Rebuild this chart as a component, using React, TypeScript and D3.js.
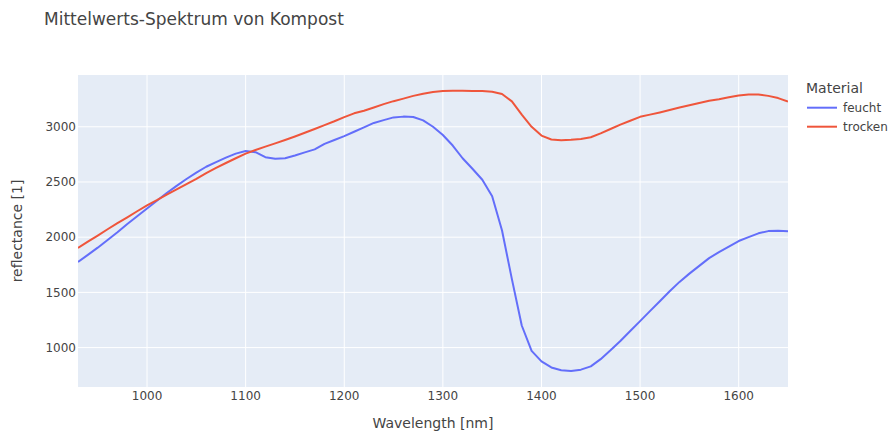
import React from "react";
import * as d3 from "d3";

// Wavelengths in nm (sampled every 10 nm from 930 to 1650)
const wavelengths = [
  930, 940, 950, 960, 970, 980, 990, 1000, 1010, 1020, 1030, 1040, 1050, 1060,
  1070, 1080, 1090, 1100, 1110, 1120, 1130, 1140, 1150, 1160, 1170, 1180, 1190,
  1200, 1210, 1220, 1230, 1240, 1250, 1260, 1270, 1280, 1290, 1300, 1310, 1320,
  1330, 1340, 1350, 1360, 1370, 1380, 1390, 1400, 1410, 1420, 1430, 1440, 1450,
  1460, 1470, 1480, 1490, 1500, 1510, 1520, 1530, 1540, 1550, 1560, 1570, 1580,
  1590, 1600, 1610, 1620, 1630, 1640, 1650,
];

const feucht = [
  1776, 1840, 1905, 1975, 2045, 2120, 2190, 2260, 2330, 2400, 2465, 2527, 2585,
  2638, 2680, 2720, 2757, 2780, 2770, 2725, 2710, 2715, 2740, 2768, 2795, 2845,
  2880, 2915, 2955, 2995, 3035, 3060, 3085, 3092, 3088, 3058, 3000, 2925, 2830,
  2715, 2620, 2520, 2370, 2060, 1620, 1200, 970, 875, 820, 795, 788, 800, 830,
  895, 975, 1060, 1150, 1240, 1330, 1420, 1510, 1595, 1670, 1740, 1810, 1865,
  1915, 1965, 2000, 2035, 2055, 2058, 2054,
];

const trocken = [
  1903, 1960, 2015, 2072, 2127, 2180, 2235, 2288, 2335, 2385, 2432, 2480, 2528,
  2580, 2628, 2672, 2715, 2757, 2790, 2820, 2850, 2880, 2912, 2946, 2980, 3015,
  3050, 3088, 3122, 3145, 3175, 3205, 3232, 3255, 3280, 3300, 3315, 3325, 3327,
  3326, 3325, 3324, 3318, 3297, 3230, 3110, 3000, 2920, 2885, 2878, 2882, 2890,
  2905, 2940, 2980, 3020, 3055, 3090, 3110, 3130, 3152, 3175, 3195, 3215, 3235,
  3250, 3268, 3284, 3292, 3293, 3280, 3260, 3228,
];

const seriesNames = ["feucht", "trocken"];
const seriesColors = ["#636efa", "#EF553B"];
const xTicks = [1000, 1100, 1200, 1300, 1400, 1500, 1600];
const yTicks = [1000, 1500, 2000, 2500, 3000];

const W = 888;
const H = 432;
const margin = { left: 78, right: 100, top: 75, bottom: 45 };
const font = '"DejaVu Sans", verdana, arial, sans-serif';

export default function App() {
  const x = d3
    .scaleLinear()
    .domain([930, 1650])
    .range([margin.left, W - margin.right]);
  const y = d3
    .scaleLinear()
    .domain([643, 3469])
    .range([H - margin.bottom, margin.top]);

  const line = d3
    .line<number>()
    .x((_, i) => x(wavelengths[i]))
    .y((d) => y(d));

  const allSeries = [feucht, trocken];
  const pw = W - margin.right - margin.left;
  const ph = H - margin.bottom - margin.top;

  return (
    <svg
      width={W}
      height={H}
      style={{ position: "absolute", left: 0, top: 0, background: "#fff" }}
      fontFamily={font}
    >
      <rect x={margin.left} y={margin.top} width={pw} height={ph} fill="#E5ECF6" />
      {xTicks.map((t) => (
        <line key={"gx" + t} x1={x(t)} x2={x(t)} y1={margin.top} y2={margin.top + ph} stroke="#fff" strokeWidth={1} />
      ))}
      {yTicks.map((t) => (
        <line key={"gy" + t} x1={margin.left} x2={margin.left + pw} y1={y(t)} y2={y(t)} stroke="#fff" strokeWidth={1} />
      ))}
      <defs>
        <clipPath id="plotclip">
          <rect x={margin.left} y={margin.top} width={pw} height={ph} />
        </clipPath>
      </defs>
      <g clipPath="url(#plotclip)">
        {allSeries.map((s, i) => (
          <path key={i} d={line(s) || ""} fill="none" stroke={seriesColors[i]} strokeWidth={2} strokeLinejoin="round" />
        ))}
      </g>
      {xTicks.map((t) => (
        <text key={"tx" + t} x={x(t)} y={400} textAnchor="middle" fontSize={12} fill="#444">
          {t}
        </text>
      ))}
      {yTicks.map((t) => (
        <text key={"ty" + t} x={76} y={y(t)} dy="0.35em" textAnchor="end" fontSize={12} fill="#444">
          {t}
        </text>
      ))}
      <text x={margin.left + pw / 2} y={428} textAnchor="middle" fontSize={14} fill="#444">
        Wavelength [nm]
      </text>
      <text
        transform={`translate(22,${margin.top + ph / 2}) rotate(-90)`}
        textAnchor="middle"
        fontSize={14}
        fill="#444"
      >
        reflectance [1]
      </text>
      <text x={44} y={25} fontSize={17} fill="#444">
        Mittelwerts-Spektrum von Kompost
      </text>
      <text x={806} y={93} fontSize={14} fill="#444">
        Material
      </text>
      {seriesNames.map((n, i) => (
        <g key={n} transform={`translate(807,${107.7 + i * 19})`}>
          <line x1={0} x2={30} y1={0} y2={0} stroke={seriesColors[i]} strokeWidth={2} />
          <text x={36} y={0} dy="0.35em" fontSize={12} fill="#444">
            {n}
          </text>
        </g>
      ))}
    </svg>
  );
}
